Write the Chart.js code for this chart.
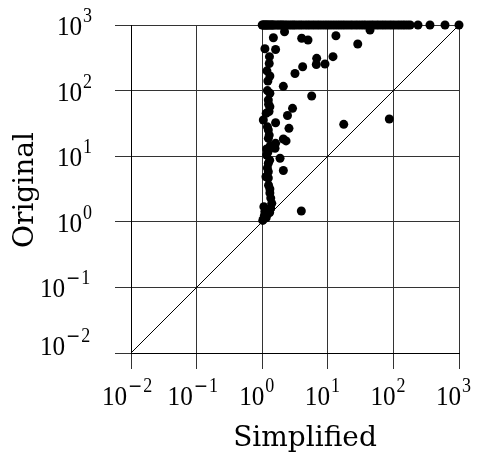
<!DOCTYPE html>
<html>
<head>
<meta charset="utf-8">
<script src="https://cdn.jsdelivr.net/npm/chart.js@4"></script>
<style>
    html, body { margin: 0; padding: 0; background: #fff; }
</style>
</head>
<body>
<canvas id="myChart" width="481" height="455"></canvas>
<script>
// decades on both axes
var tickValues = [0.01, 0.1, 1, 10, 100, 1000];
var tickExps = ['-2', '-1', '0', '1', '2', '3'];

// runs where the original hit the 1000 cap
var capValue = 1000;
var capSimplified = [1.0, 1.03, 1.06, 1.1, 1.13, 1.17, 1.2, 1.25, 1.3, 1.35, 1.4, 1.45, 1.5, 1.6, 1.7, 1.8,
    1.9, 2.0, 2.1, 2.25, 2.4, 2.6, 2.8, 3.0, 3.2, 3.5, 3.8, 4.1, 4.5, 4.9, 5.3, 5.8, 6.3, 6.9, 7.5, 8.2,
    9.0, 9.8, 10.7, 11.7, 12.8, 14, 15.3, 16.7, 18.2, 20, 22, 24, 26.5, 29, 32, 35, 38, 42, 46, 50, 55,
    60, 66, 72, 79, 87, 95, 104, 115, 126, 138, 150, 165, 180, 237, 361, 612, 1000];

// the rest
var simplified = [1.48, 2.19, 4.0, 4.99, 13.3, 28.6, 1.10, 1.60, 1.29, 1.28, 6.77, 6.68, 9.06, 12.0, 4.14,
    3.16, 1.31, 2.10, 5.68, 1.31, 1.24, 1.31, 2.90, 1.04, 1.60, 2.43, 1.24, 2.56, 1.24, 2.10, 1.60, 2.31,
    1.17, 1.57, 1.87, 1.17, 1.24, 2.10, 1.24, 1.24, 1.14, 1.31, 1.31, 1.40, 1.06, 1.25, 1.12, 1.02, 3.95,
    17.5, 86.6, 44, 1.2, 1.15, 1.3, 1.35, 1.25, 1.2, 1.3, 1.22, 1.28, 1.33, 1.08, 1.1, 1.05, 1.2, 1.15,
    1.25, 1.2, 1.22, 1.18, 1.27, 1.35, 1.3];
var original = [640, 790, 627, 590, 687, 513, 435, 423, 329, 259, 310, 250, 254, 329, 231,
    182, 167, 116, 82.8, 91, 71.9, 56.9, 53.7, 35.6, 32.4, 41.7, 25.1, 26.6, 18.7, 18.3, 15.7, 17.1,
    12.9, 13.2, 9.29, 10.4, 7.8, 6.05, 5.8, 4.65, 4.87, 3.16, 2.75, 1.91, 1.70, 1.46, 1.20, 1.05, 1.46,
    30.6, 36.9, 840, 1.3, 1.15, 1.5, 2.3, 3.6, 6.6, 8.7, 11.5, 21, 14.5, 1.25, 1.45, 1.12, 28, 45,
    62, 100, 140, 200, 48, 1.6, 1.38];

var diagonal = [{ x: 0.01, y: 0.01 }, { x: 1000, y: 1000 }];

var points = [];
capSimplified.forEach(function (v) { points.push({ x: v, y: capValue }); });
simplified.forEach(function (v, i) { points.push({ x: v, y: original[i] }); });

// "10" with a raised exponent; the minus comes from DejaVu, it is wider like the TeX one
function drawPow(c, x, y, exp) {
    c.save();
    c.translate(x, y);
    c.scale(0.9, 1);
    c.textAlign = 'left';
    c.font = '28px "Liberation Serif"';
    c.fillText('10', 0, 0);
    var pos = c.measureText('10').width + 1;
    if (exp.charAt(0) === '-') {
        c.font = '19px "DejaVu Serif"';
        c.fillText('\u2212', pos, -13);
        pos += c.measureText('\u2212').width + 1;
        exp = exp.slice(1);
    }
    c.font = '20px "Liberation Serif"';
    c.fillText(exp, pos, -13);
    c.restore();
}

var labelPlugin = {
    id: 'logLabels',
    afterDraw: function (chart) {
        var c = chart.ctx, xs = chart.scales.x, ys = chart.scales.y;
        c.save();
        c.fillStyle = '#000';
        c.textBaseline = 'alphabetic';
        tickValues.forEach(function (v, i) {
            var neg = tickExps[i].charAt(0) === '-';
            drawPow(c, xs.getPixelForValue(v) - (neg ? 29 : 23), 405, tickExps[i]);
            drawPow(c, neg ? 40 : 57, ys.getPixelForValue(v) + (i === 0 ? 2 : 10), tickExps[i]);
        });
        c.font = '28px "DejaVu Serif"';
        c.textAlign = 'center';
        c.fillText('Simplified', (xs.left + xs.right) / 2 + 10, 446);
        c.translate(33, (ys.top + ys.bottom) / 2 + 1);
        c.rotate(-Math.PI / 2);
        c.fillText('Original', 0, 0);
        c.restore();
    }
};

function decadeTicks(scale) {
    scale.ticks = tickValues.map(function (v) { return { value: v }; });
}

var ctx = document.getElementById('myChart');
var myChart = new Chart(ctx, {
    type: 'scatter',
    data: {
        datasets: [{
            label: 'runs',
            data: points,
            backgroundColor: '#000',
            borderWidth: 0,
            pointRadius: 4.5,
            pointHoverRadius: 4.5,
            clip: false,
            order: 0
        }, {
            label: 'y = x',
            data: diagonal,
            showLine: true,
            borderColor: '#000',
            borderWidth: 1,
            pointRadius: 0,
            order: 1
        }]
    },
    options: {
        responsive: false,
        animation: false,
        layout: { padding: { left: 115, right: 22, top: 25, bottom: 86 } },
        plugins: {
            legend: { display: false },
            tooltip: { enabled: false }
        },
        scales: {
            x: {
                type: 'logarithmic',
                min: 0.01,
                max: 1000,
                afterBuildTicks: decadeTicks,
                ticks: { display: false },
                grid: { color: '#333', lineWidth: 1, tickLength: 16 },
                border: { color: '#000', width: 1 }
            },
            y: {
                type: 'logarithmic',
                min: 0.01,
                max: 1000,
                afterBuildTicks: decadeTicks,
                ticks: { display: false },
                grid: { color: '#333', lineWidth: 1, tickLength: 16 },
                border: { color: '#000', width: 1 }
            }
        }
    },
    plugins: [labelPlugin]
});
</script>
</body>
</html>
